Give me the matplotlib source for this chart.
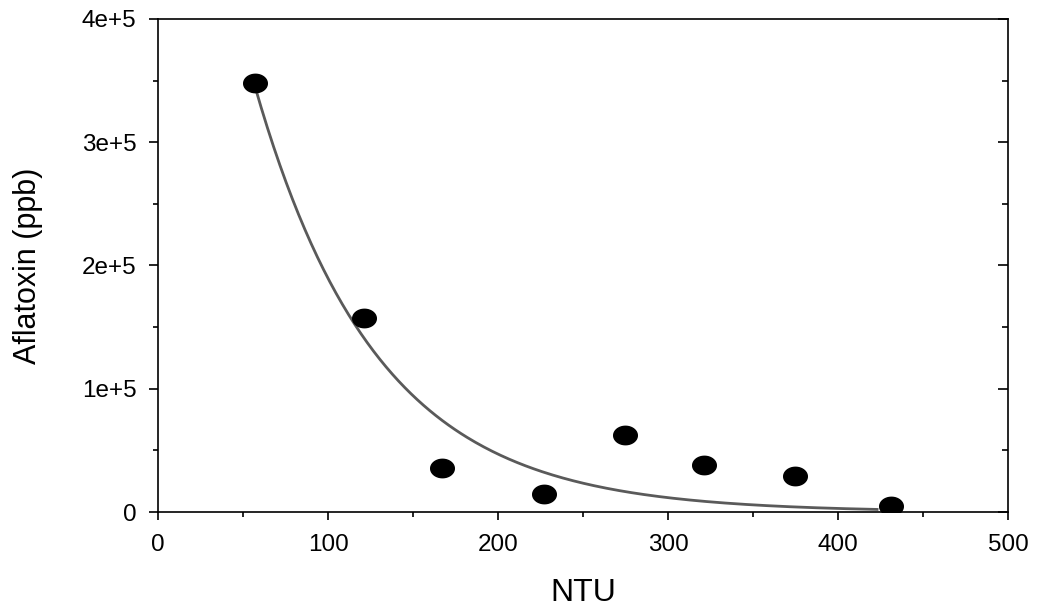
import numpy as np
import matplotlib
matplotlib.use("Agg")
import matplotlib.pyplot as plt
from matplotlib.path import Path
from matplotlib.ticker import MultipleLocator, FixedLocator

plt.rcParams['font.family'] = ['Liberation Sans', 'DejaVu Sans']

# measured turbidity vs aflatoxin
ntu = [57, 121, 167, 227, 275, 321, 375, 431]
aflatoxin = [348000, 157000, 36000, 14500, 62500, 38500, 29000, 5000]

# exponential decay fit y = a * exp(-b * x)
fit_a = 7.65e5
fit_b = 0.01395
fit_range = (57, 423)

xticks = [0, 100, 200, 300, 400, 500]
yticks = [0, 100000, 200000, 300000, 400000]
ytick_labels = ['0', '1e+5', '2e+5', '3e+5', '4e+5']

fig = plt.figure(figsize=(10.37, 6.14), dpi=100)
ax = fig.add_axes([0.1524, 0.1661, 0.8196, 0.8030])

xs = np.linspace(fit_range[0], fit_range[1], 300)
ax.plot(xs, fit_a * np.exp(-fit_b * xs), color='#5a5a5a', lw=2.0, zorder=2)

# slightly flattened dot marker
t = np.linspace(0, 2 * np.pi, 60)
ellipse = Path(np.column_stack([1.0 * np.cos(t), 0.78 * np.sin(t)]), closed=True)
ax.plot(ntu, aflatoxin, ls='none', marker=ellipse, ms=17, color='black', zorder=3)

ax.set_xlim(0, 500)
ax.set_ylim(0, 400000)
ax.xaxis.set_major_locator(FixedLocator(xticks))
ax.xaxis.set_minor_locator(MultipleLocator(50))
ax.set_yticks(yticks)
ax.set_yticklabels(ytick_labels)
ax.yaxis.set_minor_locator(MultipleLocator(50000))

for s in ax.spines.values():
    s.set_linewidth(1.2)

ax.tick_params(axis='x', which='major', direction='out', length=5.5, width=1.2,
               labelsize=17.5, pad=10, top=False)
ax.tick_params(axis='x', which='minor', direction='out', length=3.5, width=1.2, top=False)
ax.tick_params(axis='y', which='major', direction='out', length=6.5, width=1.2,
               labelsize=17.5, pad=9)
ax.tick_params(axis='y', which='minor', direction='out', length=3.5, width=1.2)

# inward ticks on the right edge
ax2 = ax.twinx()
ax2.set_ylim(ax.get_ylim())
ax2.set_yticks(yticks)
ax2.yaxis.set_minor_locator(MultipleLocator(50000))
ax2.tick_params(axis='y', which='major', direction='in', length=7, width=1.2, labelright=False)
ax2.tick_params(axis='y', which='minor', direction='in', length=4, width=1.2)
for s in ax2.spines.values():
    s.set_visible(False)

ax.set_xlabel('NTU', fontsize=23, labelpad=16)
ax.set_ylabel('Aflatoxin (ppb)', fontsize=22, labelpad=28)

fig.savefig('out.png', dpi=100)
